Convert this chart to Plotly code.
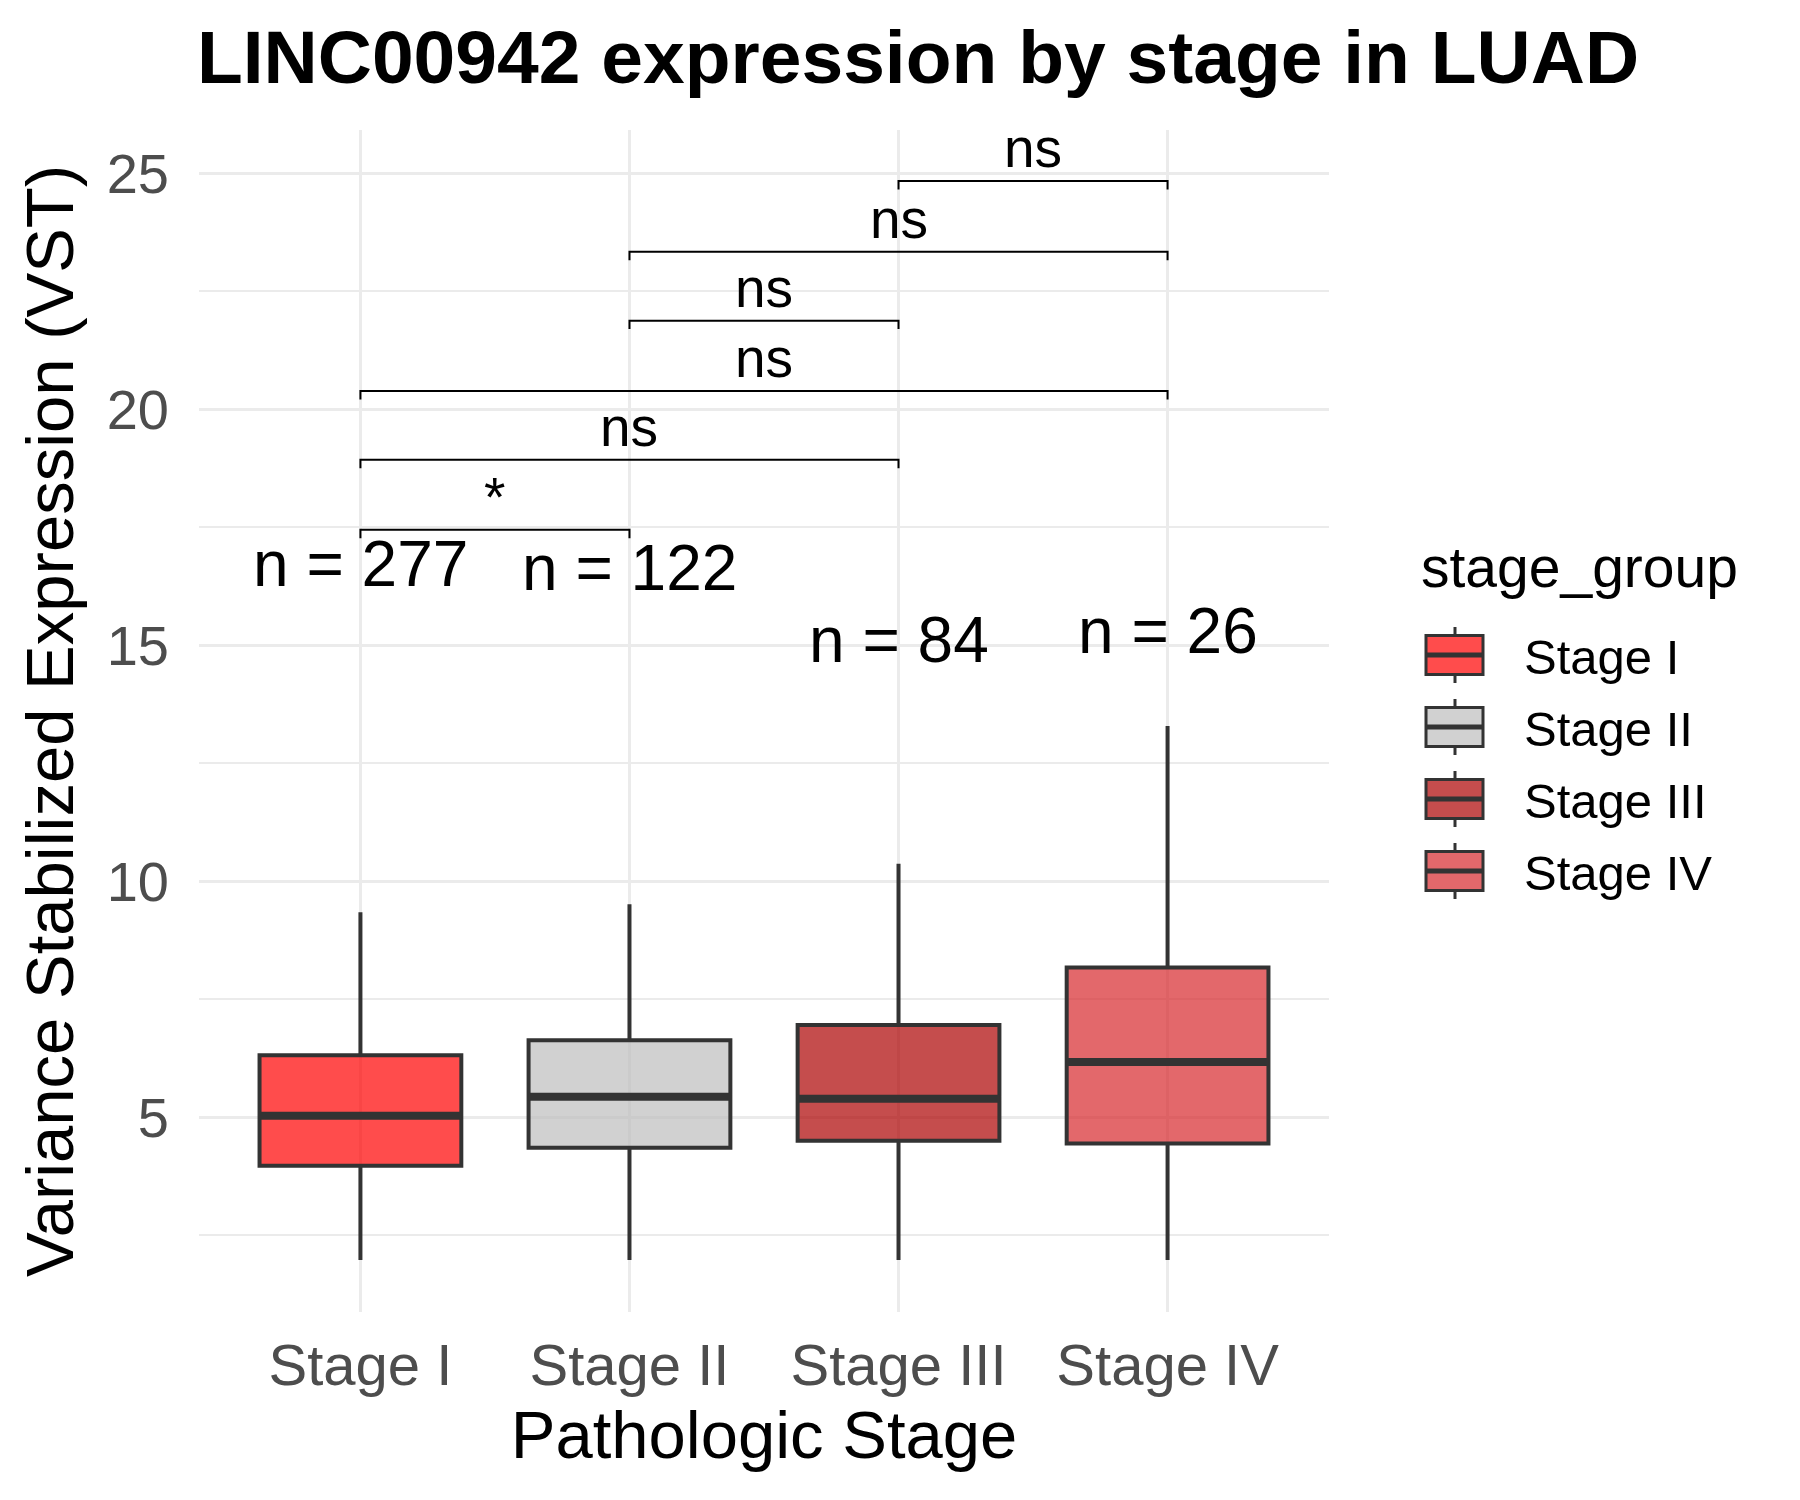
import plotly.graph_objects as go

# ---- data ----
stages = ["Stage I", "Stage II", "Stage III", "Stage IV"]
lower_whisker = [1.97, 1.97, 1.97, 1.97]
q1 = [3.97, 4.35, 4.50, 4.44]
median = [5.03, 5.43, 5.39, 6.17]
q3 = [6.31, 6.63, 6.95, 8.17]
upper_whisker = [9.34, 9.51, 10.37, 13.29]
n_counts = [277, 122, 84, 26]
n_label_y = [16.65, 16.58, 15.04, 15.23]
fills = ["rgba(255,0,0,0.70)", "rgba(189,189,189,0.70)", "rgba(172,2,2,0.70)", "rgba(215,40,44,0.70)"]

# significance comparisons (group index pairs, 1-based), bracket heights, labels
comp_start = [1, 1, 1, 2, 2, 3]
comp_end = [2, 3, 4, 3, 4, 4]
comp_y = [17.45, 18.93, 20.39, 21.88, 23.34, 24.84]
comp_label = ["*", "ns", "ns", "ns", "ns", "ns"]

FONT = "Liberation Sans, Arial, Helvetica, sans-serif"
BOX_W = 0.75
TICK_LEN = 0.18
EDGE = "#333333"

# ---- layout geometry (figure pixels) ----
FIG_W, FIG_H = 1800, 1500
OFF = 8  # page body margin
L, T = 199 - OFF, 130 - OFF
R_EDGE, B_EDGE = 1329 - OFF, 1312 - OFF
PW, PH = R_EDGE - L, B_EDGE - T


def px(xw):
    return (xw - OFF - L) / PW


def py(yw):
    return 1 - (yw - OFF - T) / PH


fig = go.Figure()
xs = list(range(1, len(stages) + 1))
for i, s in enumerate(stages):
    fig.add_trace(go.Box(
        x=[xs[i]], q1=[q1[i]], median=[median[i]], q3=[q3[i]],
        lowerfence=[lower_whisker[i]], upperfence=[upper_whisker[i]],
        name=s, width=BOX_W, whiskerwidth=0,
        fillcolor=fills[i], line=dict(color=EDGE, width=4),
        boxpoints=False, hoverinfo="skip", showlegend=False,
    ))
    # thicker median line
    fig.add_trace(go.Scatter(
        x=[xs[i] - BOX_W / 2, xs[i] + BOX_W / 2], y=[median[i], median[i]],
        mode="lines", line=dict(color=EDGE, width=8),
        showlegend=False, hoverinfo="skip",
    ))

# significance brackets
for a, b, yv, lab in zip(comp_start, comp_end, comp_y, comp_label):
    fig.add_trace(go.Scatter(
        x=[a, a, b, b], y=[yv - TICK_LEN, yv, yv, yv - TICK_LEN],
        mode="lines", line=dict(color="black", width=2),
        showlegend=False, hoverinfo="skip",
    ))
    fig.add_annotation(
        x=(a + b) / 2, y=yv, text=lab, showarrow=False,
        yanchor="bottom", xanchor="center", yshift=0,
        font=dict(family=FONT, size=55, color="black"),
    )

# n labels
for i, n in enumerate(n_counts):
    fig.add_annotation(
        x=xs[i], y=n_label_y[i], text=f"n = {n}", showarrow=False,
        yanchor="middle", xanchor="center", yshift=3,
        font=dict(family=FONT, size=64, color="black"),
    )

# ---- custom legend (ggplot-style box keys) ----
LEG_TITLE_Y = 567
LEG_ITEM_Y0, LEG_ITEM_DY = 655, 72
KEY_X0, KEY_X1, KEY_XC = 1426, 1483, 1455
KEY_HALF, WHISK_HALF = 19.5, 28
fig.add_annotation(
    x=px(1419), y=py(LEG_TITLE_Y), xref="paper", yref="paper",
    text="stage_group", showarrow=False, xanchor="left", yanchor="middle",
    font=dict(family=FONT, size=57, color="black"),
)
for i, s in enumerate(stages):
    cy = LEG_ITEM_Y0 + i * LEG_ITEM_DY
    # whisker ticks
    fig.add_shape(type="line", xref="paper", yref="paper",
                  x0=px(KEY_XC), x1=px(KEY_XC), y0=py(cy - WHISK_HALF), y1=py(cy + WHISK_HALF),
                  line=dict(color=EDGE, width=3), layer="above")
    # box
    fig.add_shape(type="rect", xref="paper", yref="paper",
                  x0=px(KEY_X0), x1=px(KEY_X1), y0=py(cy + KEY_HALF), y1=py(cy - KEY_HALF),
                  fillcolor="white", line=dict(width=0), layer="above")
    fig.add_shape(type="rect", xref="paper", yref="paper",
                  x0=px(KEY_X0), x1=px(KEY_X1), y0=py(cy + KEY_HALF), y1=py(cy - KEY_HALF),
                  fillcolor=fills[i], line=dict(color=EDGE, width=3), layer="above")
    # median
    fig.add_shape(type="line", xref="paper", yref="paper",
                  x0=px(KEY_X0), x1=px(KEY_X1), y0=py(cy), y1=py(cy),
                  line=dict(color=EDGE, width=5), layer="above")
    fig.add_annotation(
        x=px(1522), y=py(cy + 2), xref="paper", yref="paper",
        text=s, showarrow=False, xanchor="left", yanchor="middle",
        font=dict(family=FONT, size=49, color="black"),
    )

fig.update_layout(
    width=FIG_W, height=FIG_H,
    paper_bgcolor="white", plot_bgcolor="white",
    margin=dict(l=L, r=FIG_W - R_EDGE, t=T, b=FIG_H - B_EDGE, autoexpand=False),
    font=dict(family=FONT, color="black"),
    title=dict(
        text="<b>LINC00942 expression by stage in LUAD</b>",
        x=(918 - OFF) / FIG_W, xanchor="center", xref="container",
        y=1 - (57 - OFF) / FIG_H, yanchor="middle", yref="container",
        font=dict(family=FONT, size=75, color="black"),
    ),
    showlegend=False,
)

fig.update_xaxes(
    range=[0.4, 4.6], tickmode="array", tickvals=xs, ticktext=stages,
    showgrid=True, gridcolor="#EBEBEB", gridwidth=3, zeroline=False,
    showline=False, ticks="", ticklabelstandoff=14, automargin=False,
    tickfont=dict(family=FONT, size=58, color="#4D4D4D"),
    title=dict(text="Pathologic Stage", font=dict(family=FONT, size=67, color="black"), standoff=8),
)
fig.update_yaxes(
    range=[0.87, 25.92], tickmode="array", tickvals=[5, 10, 15, 20, 25],
    showgrid=True, gridcolor="#EBEBEB", gridwidth=3, zeroline=False,
    minor=dict(tickvals=[2.5, 7.5, 12.5, 17.5, 22.5], showgrid=True, gridcolor="#EBEBEB", gridwidth=1.5),
    showline=False, ticks="", ticklabelstandoff=29, automargin=False,
    tickfont=dict(family=FONT, size=56, color="#4D4D4D"),
    title=dict(text="Variance Stabilized Expression (VST)", font=dict(family=FONT, size=67, color="black"), standoff=11),
)

fig.write_html("out.html")
